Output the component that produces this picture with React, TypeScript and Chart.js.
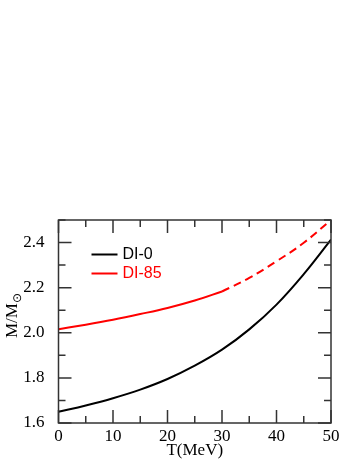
import React, { useEffect, useRef } from "react";
import { Chart, registerables } from "chart.js";

Chart.register(...registerables);

const temperatures = [0, 5, 10, 15, 20, 25, 30, 35, 40, 45, 50];
const di0Mass = [1.65, 1.678, 1.71, 1.748, 1.795, 1.854, 1.925, 2.015, 2.125, 2.26, 2.413];
const di85SolidT = [0, 5, 10, 15, 20, 25, 30];
const di85SolidMass = [2.016, 2.036, 2.058, 2.083, 2.11, 2.143, 2.183];
const di85DashT = [30, 35, 40, 45, 50];
const di85DashMass = [2.183, 2.243, 2.317, 2.399, 2.5];
const xTickValues = [0, 10, 20, 30, 40, 50];
const yTickValues = [1.6, 1.8, 2.0, 2.2, 2.4];
const xMinorValues = [5, 15, 25, 35, 45];
const yMinorValues = [1.7, 1.9, 2.1, 2.3, 2.5];
const seriesLabels = ["DI-0", "DI-85"];
const seriesColors = ["#000000", "#ff0000"];
const xTitle = "T(MeV)";

const SERIF = "'Liberation Serif', 'Times New Roman', serif";
const SANS = "'Liberation Sans', Arial, sans-serif";

const framePlugin = {
  id: "frameTicks",
  afterDatasetsDraw(chart: any) {
    const { ctx, chartArea: a, scales } = chart;
    const xs = scales.x;
    const ys = scales.y;
    ctx.save();
    ctx.strokeStyle = "#333";
    ctx.lineWidth = 1.5;
    ctx.beginPath();
    const major = 13;
    const minor = 7;
    const drawX = (v: number, len: number) => {
      const px = xs.getPixelForValue(v);
      ctx.moveTo(px, a.bottom);
      ctx.lineTo(px, a.bottom - len);
      ctx.moveTo(px, a.top);
      ctx.lineTo(px, a.top + len);
    };
    const drawY = (v: number, len: number) => {
      const py = ys.getPixelForValue(v);
      ctx.moveTo(a.left, py);
      ctx.lineTo(a.left + len, py);
      ctx.moveTo(a.right, py);
      ctx.lineTo(a.right - len, py);
    };
    xTickValues.forEach((v) => drawX(v, major));
    xMinorValues.forEach((v) => drawX(v, minor));
    yTickValues.forEach((v) => drawY(v, major));
    yMinorValues.forEach((v) => drawY(v, minor));
    ctx.stroke();
    ctx.strokeRect(a.left, a.top, a.right - a.left, a.bottom - a.top);

    // legend
    const lx0 = a.left + 33;
    const lx1 = a.left + 59;
    const ly = [a.top + 34.5, a.top + 53.5];
    ctx.font = "16px " + SANS;
    ctx.textBaseline = "middle";
    ctx.textAlign = "left";
    seriesLabels.forEach((lab, i) => {
      ctx.strokeStyle = seriesColors[i];
      ctx.lineWidth = 2;
      ctx.beginPath();
      ctx.moveTo(lx0, ly[i]);
      ctx.lineTo(lx1, ly[i]);
      ctx.stroke();
      ctx.fillStyle = seriesColors[i];
      ctx.fillText(lab, lx1 + 5, ly[i] + 0.5);
    });

    // y title with subscript
    const cy = (a.top + a.bottom) / 2;
    ctx.save();
    ctx.translate(17, cy - 6);
    ctx.rotate(-Math.PI / 2);
    ctx.fillStyle = "#000";
    ctx.textBaseline = "alphabetic";
    ctx.font = "17px " + SERIF;
    const main = "M/M";
    const w = ctx.measureText(main).width;
    ctx.font = "12px 'DejaVu Sans', sans-serif";
    const sw = ctx.measureText("\u2299").width;
    const total = w + sw;
    ctx.font = "17px " + SERIF;
    ctx.fillText(main, -total / 2, 0);
    ctx.font = "12px 'DejaVu Sans', sans-serif";
    ctx.fillText("\u2299", -total / 2 + w, 4);
    ctx.restore();

    // x title
    ctx.fillStyle = "#000";
    ctx.font = "17px " + SERIF;
    ctx.textAlign = "center";
    ctx.textBaseline = "alphabetic";
    ctx.fillText(xTitle, (a.left + a.right) / 2, 455);
    ctx.restore();
  },
};

export default function App() {
  const ref = useRef<HTMLCanvasElement | null>(null);
  useEffect(() => {
    if (!ref.current) return;
    const toPts = (xs: number[], ys: number[]) => xs.map((x, i) => ({ x, y: ys[i] }));
    const chart = new Chart(ref.current, {
      type: "line",
      data: {
        datasets: [
          {
            label: seriesLabels[0],
            data: toPts(temperatures, di0Mass),
            borderColor: seriesColors[0],
            borderWidth: 2,
            pointRadius: 0,
            tension: 0.4,
          },
          {
            label: seriesLabels[1],
            data: toPts(di85SolidT, di85SolidMass),
            borderColor: seriesColors[1],
            borderWidth: 2,
            pointRadius: 0,
            tension: 0.4,
          },
          {
            label: seriesLabels[1] + " dashed",
            data: toPts(di85DashT, di85DashMass),
            borderColor: seriesColors[1],
            borderWidth: 2,
            borderDash: [8, 5],
            pointRadius: 0,
            tension: 0.4,
          },
        ],
      },
      options: {
        responsive: false,
        animation: false,
        layout: { padding: { top: 220, right: 26, left: 0, bottom: 0 } },
        plugins: { legend: { display: false }, tooltip: { enabled: false } },
        scales: {
          x: {
            type: "linear",
            min: 0,
            max: 50,
            grid: { display: false },
            border: { display: false },
            afterBuildTicks: (s: any) => {
              s.ticks = xTickValues.map((v) => ({ value: v }));
            },
            afterFit: (s: any) => {
              s.height = 39;
            },
            ticks: {
              color: "#000",
              font: { family: SERIF, size: 17 },
              padding: -5,
              maxRotation: 0,
              callback: (v: any) => String(v),
            },
          },
          y: {
            type: "linear",
            min: 1.6,
            max: 2.5,
            grid: { display: false },
            border: { display: false },
            afterBuildTicks: (s: any) => {
              s.ticks = yTickValues.map((v) => ({ value: v }));
            },
            afterFit: (s: any) => {
              s.width = 58.5;
            },
            ticks: {
              color: "#000",
              font: { family: SERIF, size: 17 },
              padding: 6,
              callback: (v: any) => Number(v).toFixed(1),
            },
          },
        },
      },
      plugins: [framePlugin],
    } as any);
    return () => chart.destroy();
  }, []);
  return (
    <div style={{ position: "absolute", left: 0, top: 0, width: 357, height: 462, background: "#fff" }}>
      <canvas ref={ref} width={357} height={462} style={{ display: "block" }} />
    </div>
  );
}
